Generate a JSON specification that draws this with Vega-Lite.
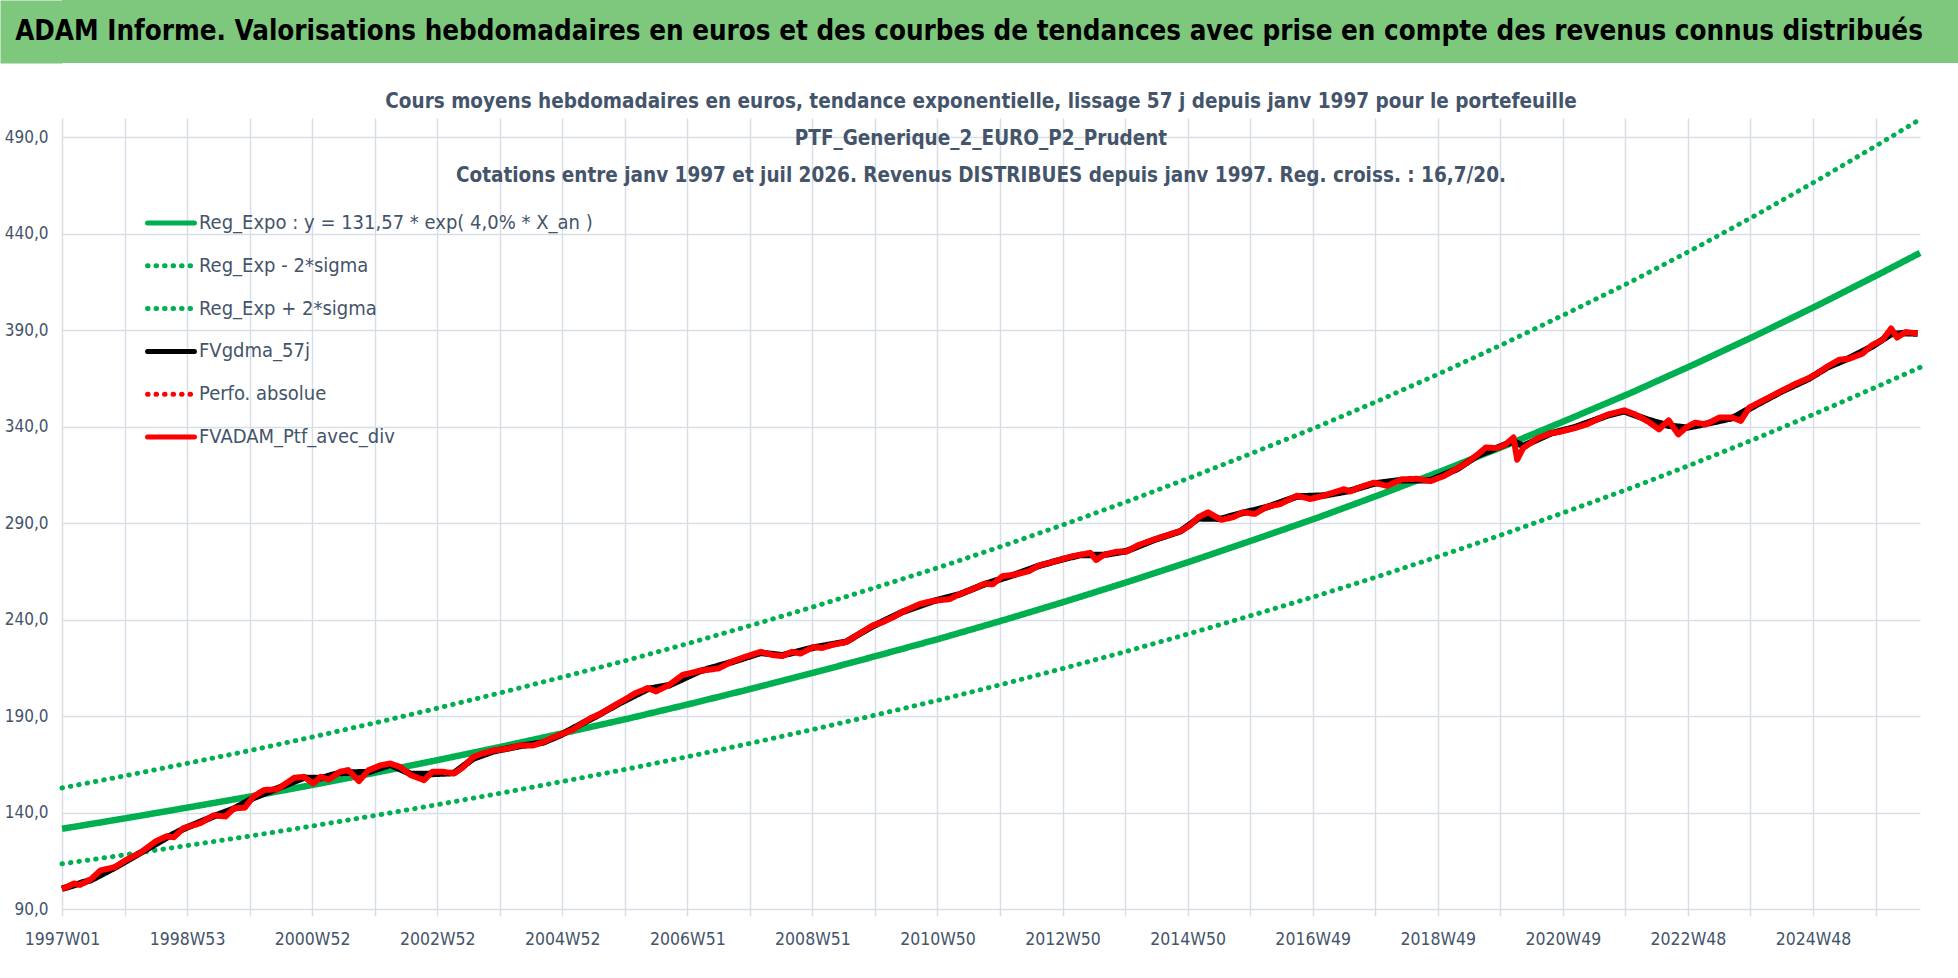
{
  "$schema": "https://vega.github.io/schema/vega-lite/v6.json",
  "padding": 0,
  "background": "white",
  "spacing": 28,
  "vconcat": [
    {
      "width": 1896,
      "height": 63,
      "view": {"fill": "#7DC87D", "stroke": null},
      "data": {"values": [{"titre": "ADAM Informe. Valorisations hebdomadaires en euros et des courbes de tendances avec prise en compte des revenus connus distribués", "pos": 0.5}]},
      "mark": {"type": "text", "font": "DejaVu Sans Condensed, DejaVu Sans, sans-serif", "fontSize": 27.5, "fontWeight": "bold", "color": "#000000", "dx": -41},
      "encoding": {
        "text": {"field": "titre", "type": "nominal"},
        "y": {
          "field": "pos",
          "type": "quantitative",
          "scale": {"domain": [0, 1]},
          "axis": {"title": null, "labels": false, "ticks": false, "grid": false, "domain": true, "domainColor": "#7DC87D", "domainWidth": 62, "offset": 31}
        }
      }
    },
    {
      "width": 1858,
      "height": 791,
      "title": {
        "text": [
          "Cours moyens hebdomadaires  en euros, tendance exponentielle, lissage 57 j depuis janv 1997 pour le portefeuille",
          "PTF_Generique_2_EURO_P2_Prudent",
          "Cotations  entre janv 1997 et juil 2026. Revenus DISTRIBUES depuis janv 1997. Reg. croiss. : 16,7/20."
        ],
        "font": "DejaVu Sans Condensed, DejaVu Sans, sans-serif",
        "fontSize": 20.5,
        "fontWeight": "bold",
        "color": "#44546A",
        "lineHeight": 37,
        "anchor": "middle",
        "dx": -10,
        "offset": -77
      },
      "data": {
        "values": [
          {"serie": "Reg_Expo : y = 131,57 * exp( 4,0% *  X_an )", "semaine": 0, "valeur": 131.57},
          {"serie": "Reg_Expo : y = 131,57 * exp( 4,0% *  X_an )", "semaine": 52, "valeur": 136.94},
          {"serie": "Reg_Expo : y = 131,57 * exp( 4,0% *  X_an )", "semaine": 104, "valeur": 142.53},
          {"serie": "Reg_Expo : y = 131,57 * exp( 4,0% *  X_an )", "semaine": 157, "valeur": 148.34},
          {"serie": "Reg_Expo : y = 131,57 * exp( 4,0% *  X_an )", "semaine": 209, "valeur": 154.4},
          {"serie": "Reg_Expo : y = 131,57 * exp( 4,0% *  X_an )", "semaine": 261, "valeur": 160.7},
          {"serie": "Reg_Expo : y = 131,57 * exp( 4,0% *  X_an )", "semaine": 313, "valeur": 167.26},
          {"serie": "Reg_Expo : y = 131,57 * exp( 4,0% *  X_an )", "semaine": 365, "valeur": 174.08},
          {"serie": "Reg_Expo : y = 131,57 * exp( 4,0% *  X_an )", "semaine": 417, "valeur": 181.19},
          {"serie": "Reg_Expo : y = 131,57 * exp( 4,0% *  X_an )", "semaine": 470, "valeur": 188.58},
          {"serie": "Reg_Expo : y = 131,57 * exp( 4,0% *  X_an )", "semaine": 522, "valeur": 196.28},
          {"serie": "Reg_Expo : y = 131,57 * exp( 4,0% *  X_an )", "semaine": 574, "valeur": 204.29},
          {"serie": "Reg_Expo : y = 131,57 * exp( 4,0% *  X_an )", "semaine": 626, "valeur": 212.62},
          {"serie": "Reg_Expo : y = 131,57 * exp( 4,0% *  X_an )", "semaine": 678, "valeur": 221.3},
          {"serie": "Reg_Expo : y = 131,57 * exp( 4,0% *  X_an )", "semaine": 731, "valeur": 230.34},
          {"serie": "Reg_Expo : y = 131,57 * exp( 4,0% *  X_an )", "semaine": 783, "valeur": 239.73},
          {"serie": "Reg_Expo : y = 131,57 * exp( 4,0% *  X_an )", "semaine": 835, "valeur": 249.52},
          {"serie": "Reg_Expo : y = 131,57 * exp( 4,0% *  X_an )", "semaine": 887, "valeur": 259.7},
          {"serie": "Reg_Expo : y = 131,57 * exp( 4,0% *  X_an )", "semaine": 939, "valeur": 270.3},
          {"serie": "Reg_Expo : y = 131,57 * exp( 4,0% *  X_an )", "semaine": 991, "valeur": 281.33},
          {"serie": "Reg_Expo : y = 131,57 * exp( 4,0% *  X_an )", "semaine": 1044, "valeur": 292.81},
          {"serie": "Reg_Expo : y = 131,57 * exp( 4,0% *  X_an )", "semaine": 1096, "valeur": 304.76},
          {"serie": "Reg_Expo : y = 131,57 * exp( 4,0% *  X_an )", "semaine": 1148, "valeur": 317.2},
          {"serie": "Reg_Expo : y = 131,57 * exp( 4,0% *  X_an )", "semaine": 1200, "valeur": 330.14},
          {"serie": "Reg_Expo : y = 131,57 * exp( 4,0% *  X_an )", "semaine": 1252, "valeur": 343.62},
          {"serie": "Reg_Expo : y = 131,57 * exp( 4,0% *  X_an )", "semaine": 1305, "valeur": 357.64},
          {"serie": "Reg_Expo : y = 131,57 * exp( 4,0% *  X_an )", "semaine": 1357, "valeur": 372.24},
          {"serie": "Reg_Expo : y = 131,57 * exp( 4,0% *  X_an )", "semaine": 1409, "valeur": 387.43},
          {"serie": "Reg_Expo : y = 131,57 * exp( 4,0% *  X_an )", "semaine": 1461, "valeur": 403.24},
          {"serie": "Reg_Expo : y = 131,57 * exp( 4,0% *  X_an )", "semaine": 1513, "valeur": 419.7},
          {"serie": "Reg_Expo : y = 131,57 * exp( 4,0% *  X_an )", "semaine": 1545, "valeur": 430.06},
          {"serie": "Reg_Exp - 2*sigma", "semaine": 0, "valeur": 113.41},
          {"serie": "Reg_Exp - 2*sigma", "semaine": 52, "valeur": 118.04},
          {"serie": "Reg_Exp - 2*sigma", "semaine": 104, "valeur": 122.86},
          {"serie": "Reg_Exp - 2*sigma", "semaine": 157, "valeur": 127.87},
          {"serie": "Reg_Exp - 2*sigma", "semaine": 209, "valeur": 133.09},
          {"serie": "Reg_Exp - 2*sigma", "semaine": 261, "valeur": 138.52},
          {"serie": "Reg_Exp - 2*sigma", "semaine": 313, "valeur": 144.18},
          {"serie": "Reg_Exp - 2*sigma", "semaine": 365, "valeur": 150.06},
          {"serie": "Reg_Exp - 2*sigma", "semaine": 417, "valeur": 156.19},
          {"serie": "Reg_Exp - 2*sigma", "semaine": 470, "valeur": 162.56},
          {"serie": "Reg_Exp - 2*sigma", "semaine": 522, "valeur": 169.19},
          {"serie": "Reg_Exp - 2*sigma", "semaine": 574, "valeur": 176.1},
          {"serie": "Reg_Exp - 2*sigma", "semaine": 626, "valeur": 183.28},
          {"serie": "Reg_Exp - 2*sigma", "semaine": 678, "valeur": 190.76},
          {"serie": "Reg_Exp - 2*sigma", "semaine": 731, "valeur": 198.55},
          {"serie": "Reg_Exp - 2*sigma", "semaine": 783, "valeur": 206.65},
          {"serie": "Reg_Exp - 2*sigma", "semaine": 835, "valeur": 215.09},
          {"serie": "Reg_Exp - 2*sigma", "semaine": 887, "valeur": 223.86},
          {"serie": "Reg_Exp - 2*sigma", "semaine": 939, "valeur": 233.0},
          {"serie": "Reg_Exp - 2*sigma", "semaine": 991, "valeur": 242.51},
          {"serie": "Reg_Exp - 2*sigma", "semaine": 1044, "valeur": 252.4},
          {"serie": "Reg_Exp - 2*sigma", "semaine": 1096, "valeur": 262.7},
          {"serie": "Reg_Exp - 2*sigma", "semaine": 1148, "valeur": 273.43},
          {"serie": "Reg_Exp - 2*sigma", "semaine": 1200, "valeur": 284.58},
          {"serie": "Reg_Exp - 2*sigma", "semaine": 1252, "valeur": 296.2},
          {"serie": "Reg_Exp - 2*sigma", "semaine": 1305, "valeur": 308.29},
          {"serie": "Reg_Exp - 2*sigma", "semaine": 1357, "valeur": 320.87},
          {"serie": "Reg_Exp - 2*sigma", "semaine": 1409, "valeur": 333.96},
          {"serie": "Reg_Exp - 2*sigma", "semaine": 1461, "valeur": 347.59},
          {"serie": "Reg_Exp - 2*sigma", "semaine": 1513, "valeur": 361.78},
          {"serie": "Reg_Exp - 2*sigma", "semaine": 1545, "valeur": 370.71},
          {"serie": "Reg_Exp + 2*sigma", "semaine": 0, "valeur": 152.75},
          {"serie": "Reg_Exp + 2*sigma", "semaine": 52, "valeur": 158.99},
          {"serie": "Reg_Exp + 2*sigma", "semaine": 104, "valeur": 165.48},
          {"serie": "Reg_Exp + 2*sigma", "semaine": 157, "valeur": 172.22},
          {"serie": "Reg_Exp + 2*sigma", "semaine": 209, "valeur": 179.26},
          {"serie": "Reg_Exp + 2*sigma", "semaine": 261, "valeur": 186.57},
          {"serie": "Reg_Exp + 2*sigma", "semaine": 313, "valeur": 194.19},
          {"serie": "Reg_Exp + 2*sigma", "semaine": 365, "valeur": 202.11},
          {"serie": "Reg_Exp + 2*sigma", "semaine": 417, "valeur": 210.36},
          {"serie": "Reg_Exp + 2*sigma", "semaine": 470, "valeur": 218.94},
          {"serie": "Reg_Exp + 2*sigma", "semaine": 522, "valeur": 227.88},
          {"serie": "Reg_Exp + 2*sigma", "semaine": 574, "valeur": 237.18},
          {"serie": "Reg_Exp + 2*sigma", "semaine": 626, "valeur": 246.85},
          {"serie": "Reg_Exp + 2*sigma", "semaine": 678, "valeur": 256.93},
          {"serie": "Reg_Exp + 2*sigma", "semaine": 731, "valeur": 267.42},
          {"serie": "Reg_Exp + 2*sigma", "semaine": 783, "valeur": 278.33},
          {"serie": "Reg_Exp + 2*sigma", "semaine": 835, "valeur": 289.69},
          {"serie": "Reg_Exp + 2*sigma", "semaine": 887, "valeur": 301.51},
          {"serie": "Reg_Exp + 2*sigma", "semaine": 939, "valeur": 313.82},
          {"serie": "Reg_Exp + 2*sigma", "semaine": 991, "valeur": 326.62},
          {"serie": "Reg_Exp + 2*sigma", "semaine": 1044, "valeur": 339.95},
          {"serie": "Reg_Exp + 2*sigma", "semaine": 1096, "valeur": 353.83},
          {"serie": "Reg_Exp + 2*sigma", "semaine": 1148, "valeur": 368.27},
          {"serie": "Reg_Exp + 2*sigma", "semaine": 1200, "valeur": 383.29},
          {"serie": "Reg_Exp + 2*sigma", "semaine": 1252, "valeur": 398.94},
          {"serie": "Reg_Exp + 2*sigma", "semaine": 1305, "valeur": 415.22},
          {"serie": "Reg_Exp + 2*sigma", "semaine": 1357, "valeur": 432.17},
          {"serie": "Reg_Exp + 2*sigma", "semaine": 1409, "valeur": 449.81},
          {"serie": "Reg_Exp + 2*sigma", "semaine": 1461, "valeur": 468.16},
          {"serie": "Reg_Exp + 2*sigma", "semaine": 1513, "valeur": 487.27},
          {"serie": "Reg_Exp + 2*sigma", "semaine": 1545, "valeur": 499.3},
          {"serie": "FVgdma_57j", "semaine": 0, "valeur": 100.5},
          {"serie": "FVgdma_57j", "semaine": 24, "valeur": 105},
          {"serie": "FVgdma_57j", "semaine": 44, "valeur": 111.5},
          {"serie": "FVgdma_57j", "semaine": 65, "valeur": 119},
          {"serie": "FVgdma_57j", "semaine": 87, "valeur": 127},
          {"serie": "FVgdma_57j", "semaine": 101, "valeur": 131.5},
          {"serie": "FVgdma_57j", "semaine": 126, "valeur": 138},
          {"serie": "FVgdma_57j", "semaine": 143, "valeur": 142},
          {"serie": "FVgdma_57j", "semaine": 159, "valeur": 147.5},
          {"serie": "FVgdma_57j", "semaine": 179, "valeur": 152.5},
          {"serie": "FVgdma_57j", "semaine": 201, "valeur": 158},
          {"serie": "FVgdma_57j", "semaine": 215, "valeur": 157.8},
          {"serie": "FVgdma_57j", "semaine": 231, "valeur": 160.5},
          {"serie": "FVgdma_57j", "semaine": 255, "valeur": 161},
          {"serie": "FVgdma_57j", "semaine": 273, "valeur": 164.8},
          {"serie": "FVgdma_57j", "semaine": 290, "valeur": 160},
          {"serie": "FVgdma_57j", "semaine": 308, "valeur": 160},
          {"serie": "FVgdma_57j", "semaine": 326, "valeur": 160.5},
          {"serie": "FVgdma_57j", "semaine": 342, "valeur": 168},
          {"serie": "FVgdma_57j", "semaine": 359, "valeur": 171.8},
          {"serie": "FVgdma_57j", "semaine": 381, "valeur": 174.5},
          {"serie": "FVgdma_57j", "semaine": 400, "valeur": 176.3},
          {"serie": "FVgdma_57j", "semaine": 414, "valeur": 180},
          {"serie": "FVgdma_57j", "semaine": 432, "valeur": 186},
          {"serie": "FVgdma_57j", "semaine": 446, "valeur": 190.5},
          {"serie": "FVgdma_57j", "semaine": 463, "valeur": 196.5},
          {"serie": "FVgdma_57j", "semaine": 487, "valeur": 204},
          {"serie": "FVgdma_57j", "semaine": 505, "valeur": 206},
          {"serie": "FVgdma_57j", "semaine": 530, "valeur": 213.2},
          {"serie": "FVgdma_57j", "semaine": 557, "valeur": 218},
          {"serie": "FVgdma_57j", "semaine": 581, "valeur": 222.8},
          {"serie": "FVgdma_57j", "semaine": 599, "valeur": 221.5},
          {"serie": "FVgdma_57j", "semaine": 625, "valeur": 225.5},
          {"serie": "FVgdma_57j", "semaine": 652, "valeur": 228.5},
          {"serie": "FVgdma_57j", "semaine": 674, "valeur": 236.5},
          {"serie": "FVgdma_57j", "semaine": 699, "valeur": 244},
          {"serie": "FVgdma_57j", "semaine": 724, "valeur": 249.5},
          {"serie": "FVgdma_57j", "semaine": 746, "valeur": 253},
          {"serie": "FVgdma_57j", "semaine": 767, "valeur": 258.3},
          {"serie": "FVgdma_57j", "semaine": 793, "valeur": 263.5},
          {"serie": "FVgdma_57j", "semaine": 812, "valeur": 267.8},
          {"serie": "FVgdma_57j", "semaine": 832, "valeur": 271.3},
          {"serie": "FVgdma_57j", "semaine": 847, "valeur": 273.5},
          {"serie": "FVgdma_57j", "semaine": 866, "valeur": 273.5},
          {"serie": "FVgdma_57j", "semaine": 885, "valeur": 275.5},
          {"serie": "FVgdma_57j", "semaine": 908, "valeur": 281.3},
          {"serie": "FVgdma_57j", "semaine": 930, "valeur": 285.8},
          {"serie": "FVgdma_57j", "semaine": 945, "valeur": 292.5},
          {"serie": "FVgdma_57j", "semaine": 964, "valeur": 292.3},
          {"serie": "FVgdma_57j", "semaine": 982, "valeur": 295.3},
          {"serie": "FVgdma_57j", "semaine": 1002, "valeur": 298.3},
          {"serie": "FVgdma_57j", "semaine": 1027, "valeur": 303.8},
          {"serie": "FVgdma_57j", "semaine": 1049, "valeur": 304.3},
          {"serie": "FVgdma_57j", "semaine": 1071, "valeur": 306.8},
          {"serie": "FVgdma_57j", "semaine": 1091, "valeur": 310.5},
          {"serie": "FVgdma_57j", "semaine": 1114, "valeur": 312.3},
          {"serie": "FVgdma_57j", "semaine": 1138, "valeur": 312.2},
          {"serie": "FVgdma_57j", "semaine": 1160, "valeur": 318},
          {"serie": "FVgdma_57j", "semaine": 1177, "valeur": 325},
          {"serie": "FVgdma_57j", "semaine": 1193, "valeur": 329},
          {"serie": "FVgdma_57j", "semaine": 1207, "valeur": 332.5},
          {"serie": "FVgdma_57j", "semaine": 1215, "valeur": 330},
          {"serie": "FVgdma_57j", "semaine": 1238, "valeur": 336.5},
          {"serie": "FVgdma_57j", "semaine": 1257, "valeur": 339.5},
          {"serie": "FVgdma_57j", "semaine": 1286, "valeur": 346},
          {"serie": "FVgdma_57j", "semaine": 1299, "valeur": 348},
          {"serie": "FVgdma_57j", "semaine": 1319, "valeur": 343.5},
          {"serie": "FVgdma_57j", "semaine": 1336, "valeur": 340.5},
          {"serie": "FVgdma_57j", "semaine": 1351, "valeur": 339.5},
          {"serie": "FVgdma_57j", "semaine": 1367, "valeur": 341.5},
          {"serie": "FVgdma_57j", "semaine": 1389, "valeur": 344.5},
          {"serie": "FVgdma_57j", "semaine": 1411, "valeur": 352},
          {"serie": "FVgdma_57j", "semaine": 1430, "valeur": 358.3},
          {"serie": "FVgdma_57j", "semaine": 1453, "valeur": 365},
          {"serie": "FVgdma_57j", "semaine": 1468, "valeur": 370.8},
          {"serie": "FVgdma_57j", "semaine": 1486, "valeur": 375.5},
          {"serie": "FVgdma_57j", "semaine": 1505, "valeur": 381.5},
          {"serie": "FVgdma_57j", "semaine": 1521, "valeur": 388},
          {"serie": "FVgdma_57j", "semaine": 1533, "valeur": 388.5},
          {"serie": "FVgdma_57j", "semaine": 1543, "valeur": 388.3},
          {"serie": "FVADAM_Ptf_avec_div", "semaine": 0, "valeur": 100.3},
          {"serie": "FVADAM_Ptf_avec_div", "semaine": 10, "valeur": 103.2},
          {"serie": "FVADAM_Ptf_avec_div", "semaine": 15, "valeur": 102.5},
          {"serie": "FVADAM_Ptf_avec_div", "semaine": 24, "valeur": 105.4},
          {"serie": "FVADAM_Ptf_avec_div", "semaine": 32, "valeur": 110},
          {"serie": "FVADAM_Ptf_avec_div", "semaine": 44, "valeur": 111.7},
          {"serie": "FVADAM_Ptf_avec_div", "semaine": 54, "valeur": 115.7},
          {"serie": "FVADAM_Ptf_avec_div", "semaine": 65, "valeur": 119.1},
          {"serie": "FVADAM_Ptf_avec_div", "semaine": 78, "valeur": 125.1},
          {"serie": "FVADAM_Ptf_avec_div", "semaine": 87, "valeur": 127.7},
          {"serie": "FVADAM_Ptf_avec_div", "semaine": 93, "valeur": 127.2},
          {"serie": "FVADAM_Ptf_avec_div", "semaine": 101, "valeur": 131.9},
          {"serie": "FVADAM_Ptf_avec_div", "semaine": 115, "valeur": 134.5},
          {"serie": "FVADAM_Ptf_avec_div", "semaine": 126, "valeur": 138.5},
          {"serie": "FVADAM_Ptf_avec_div", "semaine": 136, "valeur": 138},
          {"serie": "FVADAM_Ptf_avec_div", "semaine": 143, "valeur": 142.2},
          {"serie": "FVADAM_Ptf_avec_div", "semaine": 152, "valeur": 142.5},
          {"serie": "FVADAM_Ptf_avec_div", "semaine": 159, "valeur": 148.2},
          {"serie": "FVADAM_Ptf_avec_div", "semaine": 168, "valeur": 151.7},
          {"serie": "FVADAM_Ptf_avec_div", "semaine": 179, "valeur": 152},
          {"serie": "FVADAM_Ptf_avec_div", "semaine": 193, "valeur": 158},
          {"serie": "FVADAM_Ptf_avec_div", "semaine": 201, "valeur": 158.5},
          {"serie": "FVADAM_Ptf_avec_div", "semaine": 209, "valeur": 155.1},
          {"serie": "FVADAM_Ptf_avec_div", "semaine": 215, "valeur": 158.5},
          {"serie": "FVADAM_Ptf_avec_div", "semaine": 222, "valeur": 157.1},
          {"serie": "FVADAM_Ptf_avec_div", "semaine": 231, "valeur": 161.1},
          {"serie": "FVADAM_Ptf_avec_div", "semaine": 238, "valeur": 162},
          {"serie": "FVADAM_Ptf_avec_div", "semaine": 247, "valeur": 156.3},
          {"serie": "FVADAM_Ptf_avec_div", "semaine": 255, "valeur": 162},
          {"serie": "FVADAM_Ptf_avec_div", "semaine": 265, "valeur": 164.5},
          {"serie": "FVADAM_Ptf_avec_div", "semaine": 273, "valeur": 165.4},
          {"serie": "FVADAM_Ptf_avec_div", "semaine": 281, "valeur": 163.7},
          {"serie": "FVADAM_Ptf_avec_div", "semaine": 290, "valeur": 159.4},
          {"serie": "FVADAM_Ptf_avec_div", "semaine": 301, "valeur": 156.8},
          {"serie": "FVADAM_Ptf_avec_div", "semaine": 308, "valeur": 161.1},
          {"serie": "FVADAM_Ptf_avec_div", "semaine": 317, "valeur": 161.1},
          {"serie": "FVADAM_Ptf_avec_div", "semaine": 326, "valeur": 160.3},
          {"serie": "FVADAM_Ptf_avec_div", "semaine": 333, "valeur": 163.2},
          {"serie": "FVADAM_Ptf_avec_div", "semaine": 342, "valeur": 168.8},
          {"serie": "FVADAM_Ptf_avec_div", "semaine": 349, "valeur": 170.5},
          {"serie": "FVADAM_Ptf_avec_div", "semaine": 359, "valeur": 172.2},
          {"serie": "FVADAM_Ptf_avec_div", "semaine": 370, "valeur": 173.1},
          {"serie": "FVADAM_Ptf_avec_div", "semaine": 381, "valeur": 174.8},
          {"serie": "FVADAM_Ptf_avec_div", "semaine": 392, "valeur": 174.8},
          {"serie": "FVADAM_Ptf_avec_div", "semaine": 400, "valeur": 176.5},
          {"serie": "FVADAM_Ptf_avec_div", "semaine": 409, "valeur": 179.1},
          {"serie": "FVADAM_Ptf_avec_div", "semaine": 414, "valeur": 180.3},
          {"serie": "FVADAM_Ptf_avec_div", "semaine": 425, "valeur": 183},
          {"serie": "FVADAM_Ptf_avec_div", "semaine": 432, "valeur": 186},
          {"serie": "FVADAM_Ptf_avec_div", "semaine": 440, "valeur": 189.1},
          {"serie": "FVADAM_Ptf_avec_div", "semaine": 447, "valeur": 190.9},
          {"serie": "FVADAM_Ptf_avec_div", "semaine": 463, "valeur": 196.8},
          {"serie": "FVADAM_Ptf_avec_div", "semaine": 477, "valeur": 201.9},
          {"serie": "FVADAM_Ptf_avec_div", "semaine": 487, "valeur": 204.5},
          {"serie": "FVADAM_Ptf_avec_div", "semaine": 494, "valeur": 202.8},
          {"serie": "FVADAM_Ptf_avec_div", "semaine": 505, "valeur": 206.2},
          {"serie": "FVADAM_Ptf_avec_div", "semaine": 516, "valeur": 211.3},
          {"serie": "FVADAM_Ptf_avec_div", "semaine": 530, "valeur": 213.4},
          {"serie": "FVADAM_Ptf_avec_div", "semaine": 546, "valeur": 214.7},
          {"serie": "FVADAM_Ptf_avec_div", "semaine": 557, "valeur": 218.2},
          {"serie": "FVADAM_Ptf_avec_div", "semaine": 568, "valeur": 220.7},
          {"serie": "FVADAM_Ptf_avec_div", "semaine": 581, "valeur": 223.3},
          {"serie": "FVADAM_Ptf_avec_div", "semaine": 591, "valeur": 221.6},
          {"serie": "FVADAM_Ptf_avec_div", "semaine": 599, "valeur": 221.1},
          {"serie": "FVADAM_Ptf_avec_div", "semaine": 607, "valeur": 223.3},
          {"serie": "FVADAM_Ptf_avec_div", "semaine": 614, "valeur": 222.4},
          {"serie": "FVADAM_Ptf_avec_div", "semaine": 625, "valeur": 225.8},
          {"serie": "FVADAM_Ptf_avec_div", "semaine": 632, "valeur": 225.3},
          {"serie": "FVADAM_Ptf_avec_div", "semaine": 641, "valeur": 227},
          {"serie": "FVADAM_Ptf_avec_div", "semaine": 652, "valeur": 228.4},
          {"serie": "FVADAM_Ptf_avec_div", "semaine": 663, "valeur": 232.7},
          {"serie": "FVADAM_Ptf_avec_div", "semaine": 674, "valeur": 236.9},
          {"serie": "FVADAM_Ptf_avec_div", "semaine": 682, "valeur": 238.6},
          {"serie": "FVADAM_Ptf_avec_div", "semaine": 691, "valeur": 241.2},
          {"serie": "FVADAM_Ptf_avec_div", "semaine": 699, "valeur": 244.1},
          {"serie": "FVADAM_Ptf_avec_div", "semaine": 713, "valeur": 248},
          {"serie": "FVADAM_Ptf_avec_div", "semaine": 724, "valeur": 249.7},
          {"serie": "FVADAM_Ptf_avec_div", "semaine": 738, "valeur": 250.6},
          {"serie": "FVADAM_Ptf_avec_div", "semaine": 746, "valeur": 253.1},
          {"serie": "FVADAM_Ptf_avec_div", "semaine": 757, "valeur": 255.7},
          {"serie": "FVADAM_Ptf_avec_div", "semaine": 767, "valeur": 258.6},
          {"serie": "FVADAM_Ptf_avec_div", "semaine": 774, "valeur": 258.3},
          {"serie": "FVADAM_Ptf_avec_div", "semaine": 782, "valeur": 262.5},
          {"serie": "FVADAM_Ptf_avec_div", "semaine": 793, "valeur": 263.4},
          {"serie": "FVADAM_Ptf_avec_div", "semaine": 804, "valeur": 265.1},
          {"serie": "FVADAM_Ptf_avec_div", "semaine": 812, "valeur": 268},
          {"serie": "FVADAM_Ptf_avec_div", "semaine": 821, "valeur": 269.4},
          {"serie": "FVADAM_Ptf_avec_div", "semaine": 832, "valeur": 271.4},
          {"serie": "FVADAM_Ptf_avec_div", "semaine": 840, "valeur": 272.8},
          {"serie": "FVADAM_Ptf_avec_div", "semaine": 847, "valeur": 273.6},
          {"serie": "FVADAM_Ptf_avec_div", "semaine": 855, "valeur": 274.6},
          {"serie": "FVADAM_Ptf_avec_div", "semaine": 860, "valeur": 270.9},
          {"serie": "FVADAM_Ptf_avec_div", "semaine": 866, "valeur": 273.4},
          {"serie": "FVADAM_Ptf_avec_div", "semaine": 877, "valeur": 275.2},
          {"serie": "FVADAM_Ptf_avec_div", "semaine": 885, "valeur": 275.2},
          {"serie": "FVADAM_Ptf_avec_div", "semaine": 895, "valeur": 278.6},
          {"serie": "FVADAM_Ptf_avec_div", "semaine": 908, "valeur": 281.5},
          {"serie": "FVADAM_Ptf_avec_div", "semaine": 919, "valeur": 283.7},
          {"serie": "FVADAM_Ptf_avec_div", "semaine": 930, "valeur": 285.9},
          {"serie": "FVADAM_Ptf_avec_div", "semaine": 938, "valeur": 288.8},
          {"serie": "FVADAM_Ptf_avec_div", "semaine": 945, "valeur": 293.1},
          {"serie": "FVADAM_Ptf_avec_div", "semaine": 953, "valeur": 295.6},
          {"serie": "FVADAM_Ptf_avec_div", "semaine": 960, "valeur": 293.1},
          {"serie": "FVADAM_Ptf_avec_div", "semaine": 964, "valeur": 291.7},
          {"serie": "FVADAM_Ptf_avec_div", "semaine": 974, "valeur": 293.1},
          {"serie": "FVADAM_Ptf_avec_div", "semaine": 982, "valeur": 295.6},
          {"serie": "FVADAM_Ptf_avec_div", "semaine": 992, "valeur": 294.8},
          {"serie": "FVADAM_Ptf_avec_div", "semaine": 1002, "valeur": 298.5},
          {"serie": "FVADAM_Ptf_avec_div", "semaine": 1013, "valeur": 299.9},
          {"serie": "FVADAM_Ptf_avec_div", "semaine": 1027, "valeur": 304.2},
          {"serie": "FVADAM_Ptf_avec_div", "semaine": 1038, "valeur": 302.5},
          {"serie": "FVADAM_Ptf_avec_div", "semaine": 1049, "valeur": 304.2},
          {"serie": "FVADAM_Ptf_avec_div", "semaine": 1066, "valeur": 307.6},
          {"serie": "FVADAM_Ptf_avec_div", "semaine": 1071, "valeur": 306.4},
          {"serie": "FVADAM_Ptf_avec_div", "semaine": 1080, "valeur": 308.8},
          {"serie": "FVADAM_Ptf_avec_div", "semaine": 1091, "valeur": 311},
          {"serie": "FVADAM_Ptf_avec_div", "semaine": 1102, "valeur": 309.3},
          {"serie": "FVADAM_Ptf_avec_div", "semaine": 1114, "valeur": 312.7},
          {"serie": "FVADAM_Ptf_avec_div", "semaine": 1127, "valeur": 313},
          {"serie": "FVADAM_Ptf_avec_div", "semaine": 1138, "valeur": 311.8},
          {"serie": "FVADAM_Ptf_avec_div", "semaine": 1149, "valeur": 314.4},
          {"serie": "FVADAM_Ptf_avec_div", "semaine": 1160, "valeur": 318.3},
          {"serie": "FVADAM_Ptf_avec_div", "semaine": 1168, "valeur": 321.2},
          {"serie": "FVADAM_Ptf_avec_div", "semaine": 1177, "valeur": 325.5},
          {"serie": "FVADAM_Ptf_avec_div", "semaine": 1184, "valeur": 329.2},
          {"serie": "FVADAM_Ptf_avec_div", "semaine": 1193, "valeur": 328.9},
          {"serie": "FVADAM_Ptf_avec_div", "semaine": 1200, "valeur": 330.6},
          {"serie": "FVADAM_Ptf_avec_div", "semaine": 1207, "valeur": 334.4},
          {"serie": "FVADAM_Ptf_avec_div", "semaine": 1210, "valeur": 322.9},
          {"serie": "FVADAM_Ptf_avec_div", "semaine": 1215, "valeur": 328.9},
          {"serie": "FVADAM_Ptf_avec_div", "semaine": 1227, "valeur": 334},
          {"serie": "FVADAM_Ptf_avec_div", "semaine": 1238, "valeur": 336.6},
          {"serie": "FVADAM_Ptf_avec_div", "semaine": 1246, "valeur": 337.4},
          {"serie": "FVADAM_Ptf_avec_div", "semaine": 1257, "valeur": 339.1},
          {"serie": "FVADAM_Ptf_avec_div", "semaine": 1268, "valeur": 341.2},
          {"serie": "FVADAM_Ptf_avec_div", "semaine": 1281, "valeur": 345.1},
          {"serie": "FVADAM_Ptf_avec_div", "semaine": 1286, "valeur": 346.4},
          {"serie": "FVADAM_Ptf_avec_div", "semaine": 1299, "valeur": 348.5},
          {"serie": "FVADAM_Ptf_avec_div", "semaine": 1308, "valeur": 346.4},
          {"serie": "FVADAM_Ptf_avec_div", "semaine": 1319, "valeur": 342.6},
          {"serie": "FVADAM_Ptf_avec_div", "semaine": 1328, "valeur": 338.6},
          {"serie": "FVADAM_Ptf_avec_div", "semaine": 1336, "valeur": 343.3},
          {"serie": "FVADAM_Ptf_avec_div", "semaine": 1344, "valeur": 336},
          {"serie": "FVADAM_Ptf_avec_div", "semaine": 1351, "valeur": 339.8},
          {"serie": "FVADAM_Ptf_avec_div", "semaine": 1358, "valeur": 342.1},
          {"serie": "FVADAM_Ptf_avec_div", "semaine": 1367, "valeur": 341.2},
          {"serie": "FVADAM_Ptf_avec_div", "semaine": 1378, "valeur": 344.7},
          {"serie": "FVADAM_Ptf_avec_div", "semaine": 1389, "valeur": 344.7},
          {"serie": "FVADAM_Ptf_avec_div", "semaine": 1396, "valeur": 343},
          {"serie": "FVADAM_Ptf_avec_div", "semaine": 1403, "valeur": 349.9},
          {"serie": "FVADAM_Ptf_avec_div", "semaine": 1411, "valeur": 352.5},
          {"serie": "FVADAM_Ptf_avec_div", "semaine": 1422, "valeur": 356},
          {"serie": "FVADAM_Ptf_avec_div", "semaine": 1430, "valeur": 358.6},
          {"serie": "FVADAM_Ptf_avec_div", "semaine": 1441, "valeur": 362.1},
          {"serie": "FVADAM_Ptf_avec_div", "semaine": 1453, "valeur": 365.3},
          {"serie": "FVADAM_Ptf_avec_div", "semaine": 1461, "valeur": 368.2},
          {"serie": "FVADAM_Ptf_avec_div", "semaine": 1468, "valeur": 371.2},
          {"serie": "FVADAM_Ptf_avec_div", "semaine": 1478, "valeur": 374.7},
          {"serie": "FVADAM_Ptf_avec_div", "semaine": 1486, "valeur": 375.2},
          {"serie": "FVADAM_Ptf_avec_div", "semaine": 1497, "valeur": 377.8},
          {"serie": "FVADAM_Ptf_avec_div", "semaine": 1505, "valeur": 382.2},
          {"serie": "FVADAM_Ptf_avec_div", "semaine": 1514, "valeur": 385.1},
          {"serie": "FVADAM_Ptf_avec_div", "semaine": 1521, "valeur": 390.9},
          {"serie": "FVADAM_Ptf_avec_div", "semaine": 1526, "valeur": 386.2},
          {"serie": "FVADAM_Ptf_avec_div", "semaine": 1533, "valeur": 389.1},
          {"serie": "FVADAM_Ptf_avec_div", "semaine": 1543, "valeur": 388.3}
        ]
      },
      "encoding": {
        "x": {
          "field": "semaine",
          "type": "quantitative",
          "scale": {"domain": [0, 1545], "nice": false, "zero": false},
          "axis": {
            "title": null,
            "values": [0, 52, 104, 156, 208, 260, 312, 364, 416, 468, 520, 572, 624, 676, 728, 780, 832, 884, 936, 988, 1040, 1092, 1144, 1196, 1248, 1300, 1352, 1404, 1456, 1508],
            "labelExpr": "datum.value % 104 == 0 ? ['1997W01','1998W53','2000W52','2002W52','2004W52','2006W51','2008W51','2010W50','2012W50','2014W50','2016W49','2018W49','2020W49','2022W48','2024W48'][datum.value / 104] : ''",
            "labelOverlap": false,
            "labelFlush": false,
            "domain": false,
            "ticks": true,
            "tickSize": 7,
            "tickColor": "#D9DEE6",
            "tickWidth": 1.5,
            "labelPadding": 14,
            "labelFontSize": 17.5
          }
        },
        "y": {
          "field": "valeur",
          "type": "quantitative",
          "scale": {"domain": [90, 500], "nice": false, "zero": false},
          "axis": {
            "title": null,
            "values": [90, 140, 190, 240, 290, 340, 390, 440, 490],
            "format": ".1f",
            "domain": false,
            "ticks": false,
            "labelPadding": 14,
            "minExtent": 62,
            "labelFontSize": 17
          }
        },
        "color": {
          "field": "serie",
          "type": "nominal",
          "scale": {
            "domain": ["Reg_Expo : y = 131,57 * exp( 4,0% *  X_an )", "Reg_Exp - 2*sigma", "Reg_Exp + 2*sigma", "FVgdma_57j", "Perfo. absolue", "FVADAM_Ptf_avec_div"],
            "range": ["#00B050", "#00B050", "#00B050", "#000000", "#FF0000", "#FF0000"]
          },
          "legend": {
            "title": null,
            "orient": "none",
            "legendX": 83,
            "legendY": 197,
            "symbolType": "stroke",
            "symbolSize": 2200,
            "symbolStrokeWidth": 5,
            "rowPadding": 6.8,
            "labelOffset": 2,
            "labelFontSize": 20,
            "labelLimit": 600,
            "padding": 0,
            "encode": {"symbols": {"update": {"strokeCap": {"value": "round"}}}}
          }
        },
        "strokeDash": {
          "field": "serie",
          "type": "nominal",
          "scale": {
            "domain": ["Reg_Expo : y = 131,57 * exp( 4,0% *  X_an )", "Reg_Exp - 2*sigma", "Reg_Exp + 2*sigma", "FVgdma_57j", "Perfo. absolue", "FVADAM_Ptf_avec_div"],
            "range": [[1, 0], [0.5, 8], [0.5, 8], [1, 0], [0.5, 8], [1, 0]]
          }
        }
      },
      "layer": [
        {
          "transform": [{"filter": "datum.serie == 'Reg_Exp - 2*sigma' || datum.serie == 'Reg_Exp + 2*sigma'"}],
          "mark": {"type": "line", "strokeWidth": 5, "strokeCap": "round"}
        },
        {
          "transform": [{"filter": "datum.serie == 'Reg_Expo : y = 131,57 * exp( 4,0% *  X_an )'"}],
          "mark": {"type": "line", "strokeWidth": 6.5}
        },
        {
          "transform": [{"filter": "datum.serie == 'FVgdma_57j'"}],
          "mark": {"type": "line", "strokeWidth": 6.5, "strokeJoin": "round"}
        },
        {
          "transform": [{"filter": "datum.serie == 'FVADAM_Ptf_avec_div'"}],
          "mark": {"type": "line", "strokeWidth": 6, "strokeJoin": "round"}
        }
      ]
    }
  ],
  "config": {
    "view": {"stroke": null},
    "locale": {
      "number": {"decimal": ",", "thousands": " ", "grouping": [3], "currency": ["", " €"]}
    },
    "axis": {
      "labelFont": "DejaVu Sans Condensed, DejaVu Sans, sans-serif",
      "labelColor": "#44546A",
      "gridColor": "#D9DEE6",
      "gridWidth": 1.5
    },
    "legend": {
      "labelFont": "DejaVu Sans Condensed, DejaVu Sans, sans-serif",
      "labelColor": "#44546A"
    }
  }
}
